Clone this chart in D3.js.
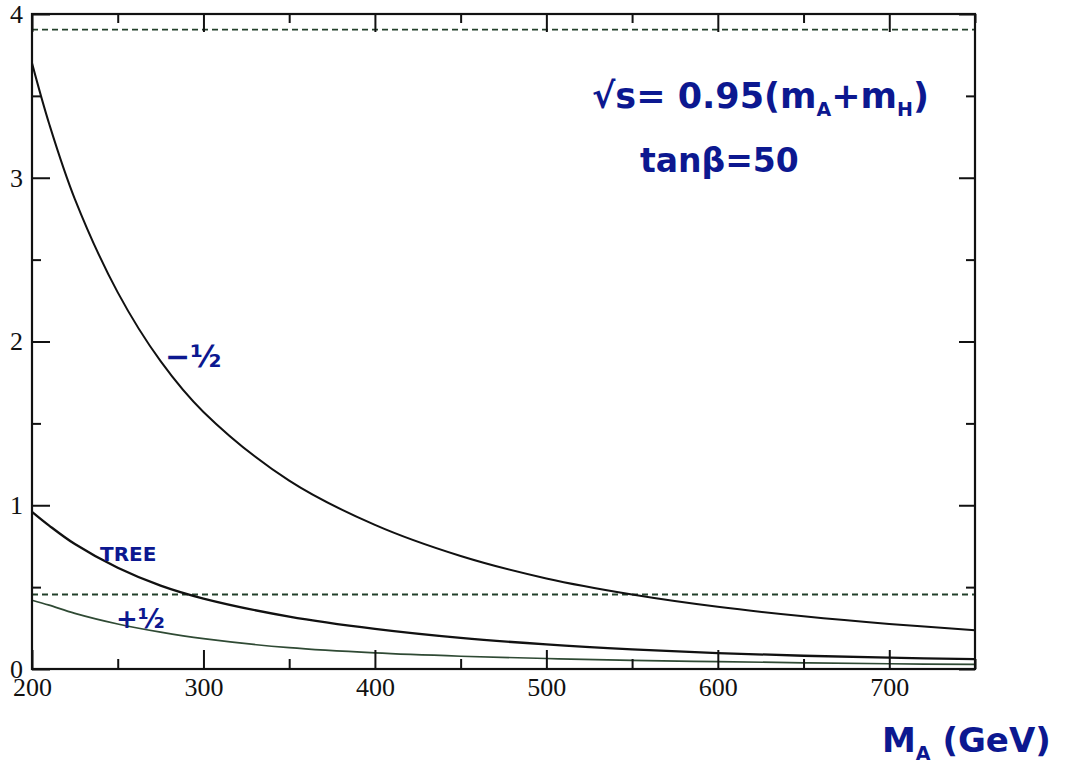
<!DOCTYPE html>
<html>
<head>
<meta charset="utf-8">
<script src="https://cdn.jsdelivr.net/npm/d3@7"></script>
<style>
  body { margin: 0; background: #fff; }
  .axis path { display: none; }
  .axis line { stroke: #111; stroke-width: 2px; }
  .axis text { font-family: "Liberation Serif", serif; font-size: 26px; fill: #111; }
  .hand { font-family: "DejaVu Sans", sans-serif; font-weight: bold; fill: #0c1890; }
</style>
</head>
<body>
<svg id="chart" width="1075" height="772"></svg>
<script>
// M_A in GeV
var massA = [200, 210, 225, 250, 275, 300, 350, 400, 450, 500, 550, 600, 650, 700, 750];
var minusHalf = [3.70, 3.33, 2.87, 2.30, 1.88, 1.57, 1.15, 0.88, 0.69, 0.553, 0.455, 0.38, 0.322, 0.275, 0.237];
var tree      = [0.96, 0.876, 0.763, 0.618, 0.509, 0.43, 0.32, 0.245, 0.19, 0.15, 0.12, 0.097, 0.081, 0.069, 0.06];
var plusHalf  = [0.42, 0.39, 0.34, 0.275, 0.225, 0.185, 0.13, 0.098, 0.078, 0.064, 0.053, 0.045, 0.038, 0.032, 0.028];
var refLines = [3.905, 0.455];
var xMajor = [200, 300, 400, 500, 600, 700];
var xMinor = [250, 350, 450, 550, 650, 750];
var yMajor = [0, 1, 2, 3, 4];
var yMinor = [0.5, 1.5, 2.5, 3.5];

var svg = d3.select("#chart");
svg.append("rect").attr("width", 1075).attr("height", 772).attr("fill", "#fff");

var x = d3.scaleLinear().domain([200, 750]).range([32, 975]);
var y = d3.scaleLinear().domain([0, 4]).range([669, 14]);

var series = [
    { id: "minus", values: minusHalf, color: "#111", width: 2 },
    { id: "tree", values: tree, color: "#111", width: 2.3 },
    { id: "plus", values: plusHalf, color: "#2f4a34", width: 1.7 }
];

// dashed reference lines
svg.selectAll(".ref")
    .data(refLines)
    .enter().append("line")
    .attr("class", "ref")
    .attr("x1", x(200)).attr("x2", x(750))
    .attr("y1", d => y(d)).attr("y2", d => y(d))
    .attr("stroke", "#22402a")
    .attr("stroke-width", 1.8)
    .attr("stroke-dasharray", "6,4");

var lineDraw = d3.line()
    .x(function(d) { return x(d[0]); })
    .y(function(d) { return y(d[1]); })
    .curve(d3.curveCatmullRom.alpha(0.5));

svg.selectAll(".dataLine")
    .data(series)
    .enter().append("path")
    .attr("class", "dataLine")
    .attr("fill", "none")
    .attr("stroke", d => d.color)
    .attr("stroke-width", d => d.width)
    .attr("d", d => lineDraw(massA.map((m, i) => [m, d.values[i]])));

// axes: ticks point inward on all four sides
svg.append("g").attr("class", "axis")
    .attr("transform", "translate(0," + y(0) + ")")
    .call(d3.axisBottom(x).tickValues(xMajor).tickSize(-19).tickPadding(9).tickFormat(d3.format("d")));
svg.append("g").attr("class", "axis")
    .attr("transform", "translate(0," + y(0) + ")")
    .call(d3.axisBottom(x).tickValues(xMinor).tickSize(-10).tickFormat(""));
svg.append("g").attr("class", "axis")
    .attr("transform", "translate(0," + y(4) + ")")
    .call(d3.axisTop(x).tickValues(xMajor).tickSize(-18).tickFormat(""));
svg.append("g").attr("class", "axis")
    .attr("transform", "translate(0," + y(4) + ")")
    .call(d3.axisTop(x).tickValues(xMinor).tickSize(-9).tickFormat(""));

svg.append("g").attr("class", "axis")
    .attr("transform", "translate(" + x(200) + ",0)")
    .call(d3.axisLeft(y).tickValues(yMajor).tickSize(-18).tickPadding(9).tickFormat(d3.format("d")));
svg.append("g").attr("class", "axis")
    .attr("transform", "translate(" + x(200) + ",0)")
    .call(d3.axisLeft(y).tickValues(yMinor).tickSize(-9).tickFormat(""));
svg.append("g").attr("class", "axis")
    .attr("transform", "translate(" + x(750) + ",0)")
    .call(d3.axisRight(y).tickValues(yMajor).tickSize(-16).tickFormat(""));
svg.append("g").attr("class", "axis")
    .attr("transform", "translate(" + x(750) + ",0)")
    .call(d3.axisRight(y).tickValues(yMinor).tickSize(-9).tickFormat(""));

// frame
svg.append("rect")
    .attr("x", x(200)).attr("y", y(4))
    .attr("width", x(750) - x(200)).attr("height", y(0) - y(4))
    .attr("fill", "none").attr("stroke", "#111").attr("stroke-width", 2.2);

// handwritten annotations
var t1 = svg.append("text").attr("class", "hand").attr("x", 592).attr("y", 108).attr("font-size", 35);
t1.append("tspan").text("√s= 0.95(m");
t1.append("tspan").attr("font-size", 19).attr("dy", 8).text("A");
t1.append("tspan").attr("dy", -8).text("+m");
t1.append("tspan").attr("font-size", 19).attr("dy", 8).text("H");
t1.append("tspan").attr("dy", -8).text(")");

svg.append("text").attr("class", "hand").attr("x", 640).attr("y", 172)
    .attr("font-size", 33).text("tanβ=50");

svg.append("text").attr("class", "hand").attr("x", 165).attr("y", 367)
    .attr("font-size", 30).text("−½");
svg.append("text").attr("class", "hand").attr("x", 100).attr("y", 561)
    .attr("font-size", 20).text("TREE");
svg.append("text").attr("class", "hand").attr("x", 116).attr("y", 628)
    .attr("font-size", 26).text("+½");

var xl = svg.append("text").attr("class", "hand").attr("x", 882).attr("y", 752).attr("font-size", 34);
xl.append("tspan").text("M");
xl.append("tspan").attr("font-size", 19).attr("dy", 8).text("A");
xl.append("tspan").attr("dy", -8).text(" (GeV)");
</script>
</body>
</html>
